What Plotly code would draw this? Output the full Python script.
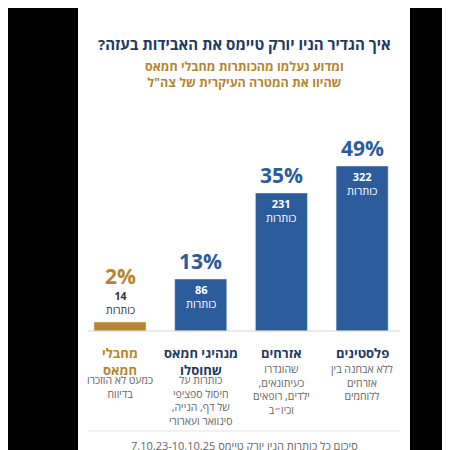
import plotly.graph_objects as go

RLM = "\u200f"

# data, left to right
categories = ["מחבלי<br>חמאס", "מנהיגי חמאס<br>שחוסלו", "אזרחים", "פלסטינים"]
descriptions = [
    "כמעט לא הוזכרו<br>בדיווח",
    "כותרות על<br>חיסול ספציפי<br>של דף, הנייה," + RLM + "<br>סינוואר ועארורי",
    "שהוגדרו<br>כעיתונאים," + RLM + "<br>ילדים, רופאים<br>וכיו״ב",
    "ללא אבחנה בין<br>אזרחים<br>ללוחמים",
]
percents = [2, 13, 35, 49]
headlines = [14, 86, 231, 322]
bar_heights = [9, 52, 138, 165]  # drawn heights as they appear in the picture
bar_colors = ["#b5862e", "#2c5c9c", "#2c5c9c", "#2c5c9c"]

title = "איך הגדיר הניו יורק טיימס את האבידות בעזה?" + RLM
subtitle = "ומדוע נעלמו מהכותרות מחבלי חמאס<br>שהיוו את המטרה העיקרית של צה\"ל"
footer = "7.10.23-10.10.25 סיכום כל כותרות הניו יורק טיימס"

FONT = "Open Sans, DejaVu Sans, sans-serif"
xs = list(range(len(categories)))
DX = 8 / 450  # page offset correction

fig = go.Figure(go.Bar(x=xs, y=bar_heights, marker_color=bar_colors, width=0.645,
                       hoverinfo="skip"))

for i, (p, h, bh) in enumerate(zip(percents, headlines, bar_heights)):
    c = bar_colors[i]
    if bh > 40:
        fig.add_annotation(x=i, y=bh + 18, text=f"<b>{p}%</b>", showarrow=False,
                           font=dict(size=21, color=c, family=FONT))
        fig.add_annotation(x=i, y=bh - 17, text=f"<b>{h}</b><br>כותרות", showarrow=False,
                           font=dict(size=11, color="white", family=FONT), yanchor="middle")
    else:
        fig.add_annotation(x=i, y=bh + 46, text=f"<b>{p}%</b>", showarrow=False,
                           font=dict(size=21, color=c, family=FONT))
        fig.add_annotation(x=i, y=bh + 19, text=f"<b>{h}</b><br>כותרות", showarrow=False,
                           font=dict(size=10.5, color="#333", family=FONT), yanchor="middle")
    fig.add_annotation(x=i, y=-11, text=f"<b>{categories[i]}</b>", showarrow=False, yanchor="top",
                       font=dict(size=13, color="#b5862e" if i == 0 else "#1f3a5f", family=FONT))
    top_desc = -40 if i < 2 else -29
    fig.add_annotation(x=i, y=top_desc, text=descriptions[i], showarrow=False, yanchor="top",
                       font=dict(size=10.5, color="#666", family=FONT))

# white card
fig.add_shape(type="rect", xref="paper", yref="paper", x0=78 / 450 - DX, x1=410 / 450 - DX,
              y0=-0.05, y1=1 - 8 / 450 + DX, fillcolor="white", line_width=0, layer="below")
# baseline & separator
fig.add_shape(type="line", xref="paper", yref="y", x0=88 / 450 - DX, x1=400 / 450 - DX, y0=0, y1=0,
              line=dict(color="#d5d5d5", width=1))
fig.add_shape(type="line", xref="paper", yref="y", x0=88 / 450 - DX, x1=400 / 450 - DX,
              y0=-100, y1=-100, line=dict(color="#e3e3e3", width=1))

fig.add_annotation(xref="paper", x=244 / 450 - DX, y=287, text=f"<b>{title}</b>", showarrow=False,
                   font=dict(size=15, color="#1f3a5f", family=FONT))
fig.add_annotation(xref="paper", x=244 / 450 - DX, y=257, text=f"<b>{subtitle}</b>", showarrow=False,
                   font=dict(size=12.5, color="#b5862e", family=FONT))
fig.add_annotation(xref="paper", x=244 / 450 - DX, y=-114, text=footer, showarrow=False,
                   font=dict(size=11, color="#666", family=FONT))

fig.update_layout(
    width=450, height=450, margin=dict(l=0, r=0, t=0, b=0),
    paper_bgcolor="black", plot_bgcolor="rgba(0,0,0,0)", showlegend=False,
    xaxis=dict(range=[-1.388, 4.188], visible=False, fixedrange=True),
    yaxis=dict(range=[-127, 323], visible=False, fixedrange=True),
)
fig.write_html("out.html")
